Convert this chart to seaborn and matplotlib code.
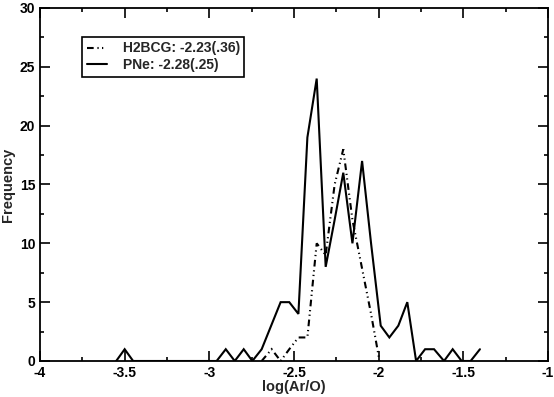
import numpy as np
import pandas as pd
import matplotlib
matplotlib.use('Agg')
import matplotlib.pyplot as plt
import seaborn as sns
from matplotlib.ticker import MultipleLocator, FuncFormatter

# H2BCG distribution (dash-dot)
h2bcg_x = [-2.691, -2.632, -2.579, -2.528, -2.474, -2.421, -2.366, -2.313,
           -2.26, -2.209, -2.155, -2.1, -2.045, -1.995]
h2bcg_y = [0, 1, 0, 1, 2, 2, 10, 9, 15, 18, 12, 8, 4, 0]

# PNe distribution (solid)
pne_x = [-3.55, -3.5, -3.45, -2.957, -2.903, -2.85, -2.797, -2.746, -2.691,
         -2.635, -2.579, -2.528, -2.474, -2.421, -2.366, -2.313, -2.26,
         -2.209, -2.155, -2.098, -2.045, -1.988, -1.937, -1.884, -1.831,
         -1.779, -1.726, -1.673, -1.614, -1.563, -1.51, -1.457, -1.402]
pne_y = [0, 1, 0, 0, 1, 0, 1, 0, 1, 3, 5, 5, 4, 19, 24, 8, 12, 16, 10, 17,
         10, 3, 2, 3, 5, 0, 1, 1, 0, 1, 0, 0, 1]

h2bcg_label = 'H2BCG: -2.23(.36)'
pne_label = 'PNe: -2.28(.25)'

df_h = pd.DataFrame({'x': h2bcg_x, 'y': h2bcg_y})
df_p = pd.DataFrame({'x': pne_x, 'y': pne_y})

sns.set_style('ticks')
plt.rcParams['font.family'] = ['Liberation Sans', 'DejaVu Sans']
plt.rcParams['font.weight'] = 'bold'

fig = plt.figure(figsize=(5.54, 3.97), dpi=100)
ax = fig.add_axes([0.0722, 0.0907, 0.9170, 0.8892])

dashdot = (3.2, 1.8, 0.6, 1.6, 0.6, 1.8)
sns.lineplot(data=df_h, x='x', y='y', ax=ax, color='black', linewidth=1.5,
             label=h2bcg_label, sort=False)
sns.lineplot(data=df_p, x='x', y='y', ax=ax, color='black', linewidth=1.5,
             label=pne_label, sort=False)
ax.lines[0].set_dashes(dashdot)
for ln in ax.lines:
    ln.set_solid_joinstyle('miter')
    ln.set_dash_joinstyle('miter')

ax.set_xlim(-4, -1)
ax.set_ylim(0, 30)
ax.xaxis.set_major_locator(MultipleLocator(0.5))
ax.xaxis.set_minor_locator(MultipleLocator(0.25))
ax.yaxis.set_major_locator(MultipleLocator(5))
ax.yaxis.set_minor_locator(MultipleLocator(2.5))
ax.xaxis.set_major_formatter(FuncFormatter(lambda v, p: '%g' % v))
ax.yaxis.set_major_formatter(FuncFormatter(lambda v, p: '%g' % v))
ax.tick_params(which='both', direction='in', top=True, right=True,
               width=1.2, labelsize=10, colors='black')
ax.tick_params(which='major', length=7)
ax.tick_params(which='minor', length=3)
ax.tick_params(axis='x', which='major', pad=3.5)
ax.tick_params(axis='y', which='major', pad=3.5)
for s in ax.spines.values():
    s.set_linewidth(1.3)
    s.set_color('black')

ax.set_xlabel('log(Ar/O)', fontsize=10.5, fontweight='bold', labelpad=0)
ax.set_ylabel('Frequency', fontsize=10.5, fontweight='bold', labelpad=3)

leg = ax.legend(loc='upper left', bbox_to_anchor=(0.083, 0.918),
                borderaxespad=0, fancybox=False, frameon=True,
                prop={'size': 10, 'weight': 'bold'}, handlelength=1.5,
                handletextpad=1.1, borderpad=0.32, labelspacing=0.2)
leg.get_frame().set_edgecolor('black')
leg.get_frame().set_linewidth(1.2)
leg.get_frame().set_alpha(1)
leg.get_lines()[0].set_dashes(dashdot)

fig.savefig('out.png', dpi=100)
